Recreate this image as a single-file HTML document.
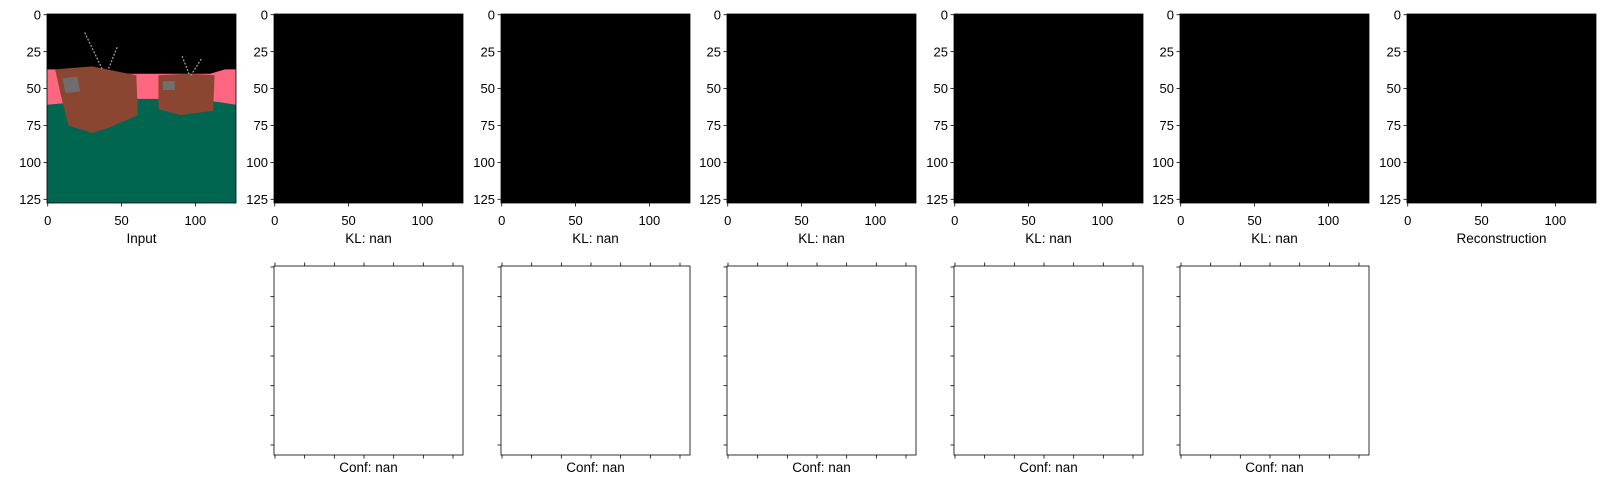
<!DOCTYPE html>
<html><head><meta charset="utf-8"><style>
body{margin:0;background:#fff;}
svg{display:block;font-family:"Liberation Sans","DejaVu Sans",sans-serif;}
</style></head><body>
<svg id="fig" width="1621" height="499" viewBox="0 0 1621 499" xmlns="http://www.w3.org/2000/svg"></svg>
<script>
const topLefts=[47,274,501,727,954,1180,1407];
const topLabels=["Input","KL: nan","KL: nan","KL: nan","KL: nan","KL: nan","Reconstruction"];
const confLabels=["Conf: nan","Conf: nan","Conf: nan","Conf: nan","Conf: nan"];
const xTicks=[0,50,100];
const yTicks=[0,25,50,75,100,125];
const bottomTickCount=7;
const W=189,H=189,TOP=14,BTOP=266,N=128;
const NS="http://www.w3.org/2000/svg";
const svg=document.getElementById('fig');
function mk(t,a,p){const e=document.createElementNS(NS,t);for(const k in a)e.setAttribute(k,a[k]);(p||svg).appendChild(e);return e;}
function sx(l,v){return l+(v+0.5)*W/N;}
function sy(t,v){return t+(v+0.5)*H/N;}
function poly(g,l,pts,fill){const p=mk('polygon',{points:pts.map(q=>sx(l,q[0])+','+sy(TOP,q[1])).join(' '),fill:fill},g);return p;}
topLefts.forEach((l,i)=>{
  const g=mk('g',{});
  
  
  mk('rect',{x:l,y:TOP,width:W,height:H,fill:'#000'},g);
  if(i===0){
    const x0=-0.5,x1=127.5;
    poly(g,l,[[x0,37],[5,37],[40,40],[110,40],[120,37],[x1,37],[x1,62],[x0,62]],'#ff6680');
    poly(g,l,[[x0,61],[10,60],[40,60],[60,57],[75,57],[100,58],[115,59],[x1,61],[x1,x1],[x0,x1]],'#006650');
    poly(g,l,[[5,37],[30,35],[60,41],[61,68],[40,77],[30,80],[14,75],[9,55]],'#8b4632');
    poly(g,l,[[10,43],[20,42],[22,52],[12,53]],'#6e6e70');
    poly(g,l,[[75,41],[95,40],[113,41],[112,65],[90,68],[75,64]],'#8b4632');
    poly(g,l,[[78,45],[86,45],[86,51],[78,51]],'#707070');
    [[25,12,37,37],[47,22,41,37],[91,28,96,41],[104,30,97,41]].forEach(a=>{
      mk('line',{x1:sx(l,a[0]),y1:sy(TOP,a[1]),x2:sx(l,a[2]),y2:sy(TOP,a[3]),stroke:'#999','stroke-width':1.3,'stroke-dasharray':'2 1.5'},g);
    });
  }
  mk('rect',{x:l,y:TOP,width:W,height:H,fill:'none',stroke:'#000','stroke-width':0.8},g);
  xTicks.forEach(v=>{const x=sx(l,v);
    mk('line',{x1:x,y1:TOP+H,x2:x,y2:TOP+H+3.5,stroke:'#000','stroke-width':0.8},g);
    const t=mk('text',{x:x,y:TOP+H+22,'font-size':13,'text-anchor':'middle'},g);t.textContent=v;
    
    
  });
  yTicks.forEach(v=>{const y=sy(TOP,v);
    mk('line',{x1:l-3.5,y1:y,x2:l,y2:y,stroke:'#000','stroke-width':0.8},g);
    const t=mk('text',{x:l-6,y:y+4.6,'font-size':13,'text-anchor':'end'},g);t.textContent=v;
    
    
  });
  const t=mk('text',{x:l+W/2,y:TOP+H+40,'font-size':13.5,'text-anchor':'middle'},g);t.textContent=topLabels[i];
  
  
});
confLabels.forEach((lab,i)=>{
  const l=topLefts[i+1];
  const g=mk('g',{});
  
  
  mk('rect',{x:l,y:BTOP,width:W,height:H,fill:'#fff',stroke:'#000','stroke-width':0.8},g);
  const step=(W-11)/(bottomTickCount-1);
  for(let k=0;k<bottomTickCount;k++){
    const x=l+1+k*step, y=BTOP+1+k*step;
    mk('line',{x1:x,y1:BTOP,x2:x,y2:BTOP-3.5,stroke:'#000','stroke-width':0.8},g);
    mk('line',{x1:x,y1:BTOP+H,x2:x,y2:BTOP+H+3.5,stroke:'#000','stroke-width':0.8},g);
    mk('line',{x1:l,y1:y,x2:l-3.5,y2:y,stroke:'#000','stroke-width':0.8},g);
  }
  const t=mk('text',{x:l+W/2,y:BTOP+H+17,'font-size':13.5,'text-anchor':'middle'},g);t.textContent=lab;
  
  
});
</script>
</body></html>
